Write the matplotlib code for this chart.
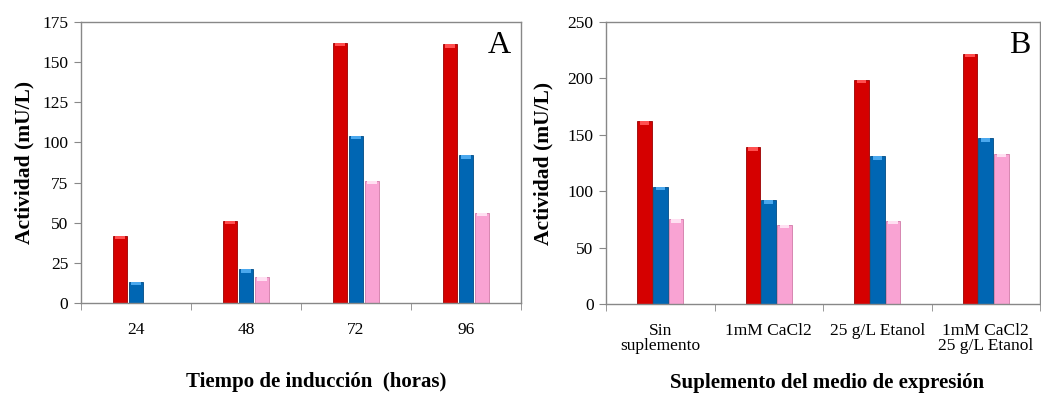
import matplotlib
matplotlib.use("Agg")
import matplotlib.pyplot as plt
import numpy as np

plt.rcParams['font.family'] = ['Liberation Serif', 'DejaVu Serif']

# Panel A data
cats_a = ["24", "48", "72", "96"]
red_a = [42, 51, 162, 161]
blue_a = [13, 21, 104, 92]
pink_a = [0, 16, 76, 56]

# Panel B data
cats_b = ["Sin\nsuplemento", "1mM CaCl2", "25 g/L Etanol", "1mM CaCl2\n25 g/L Etanol"]
red_b = [162, 139, 199, 222]
blue_b = [104, 92, 131, 147]
pink_b = [75, 70, 74, 133]

colors = ["#d50000", "#0066b3", "#f9a3d3"]
edges = ["#9a0000", "#004a85", "#d07aa8"]
caps = ["#ff5050", "#4aa8ee", "#ffe0f2"]

fig = plt.figure(figsize=(10.41, 3.93), dpi=100)
axA = fig.add_axes([81/1041, 1-303/393, 440/1041, 281/393])
axB = fig.add_axes([606/1041, 1-304/393, 434/1041, 282/393])

w = 0.145

def draw(ax, cats, series, ymax, step, letter, xlabel):
    x = np.arange(len(cats))
    for i, vals in enumerate(series):
        xs = x + (i - 1) * w
        vals = np.array(vals, dtype=float)
        mask = vals > 0
        ax.bar(xs[mask], vals[mask], width=w * 0.93, color=colors[i],
               edgecolor=edges[i], linewidth=0.6, zorder=2)
        # highlight cap to suggest the bevel effect
        cap_h = ymax * 0.012
        ax.bar(xs[mask], np.full(mask.sum(), cap_h), bottom=vals[mask] - cap_h,
               width=w * 0.6, color=caps[i], linewidth=0, zorder=3)
    ax.set_xlim(-0.5, len(cats) - 0.5)
    ax.set_ylim(0, ymax)
    ax.set_yticks(np.arange(0, ymax + 1, step))
    ax.set_xticks(x)
    ax.set_xticklabels(cats, fontsize=12.5, linespacing=0.9)
    ax.set_xticks(np.arange(-0.5, len(cats), 1.0), minor=True)
    ax.tick_params(axis='x', which='major', length=0, pad=14)
    ax.tick_params(axis='x', which='minor', length=5, color='#888888', direction='out')
    ax.tick_params(axis='y', length=5, color='#888888', labelsize=12.5, pad=4)
    for s in ax.spines.values():
        s.set_color('#888888')
        s.set_linewidth(1.0)
    ax.set_ylabel("Actividad (mU/L)", fontsize=15.5, fontweight='bold')
    ax.set_xlabel(xlabel, fontsize=15, fontweight='bold')
    ax.text(0.977, 0.915, letter, transform=ax.transAxes, fontsize=23,
            ha='right', va='center')

draw(axA, cats_a, [red_a, blue_a, pink_a], 175, 25, "A",
     "Tiempo de inducción  (horas)")
draw(axB, cats_b, [red_b, blue_b, pink_b], 250, 50, "B",
     "Suplemento del medio de expresión")

axA.yaxis.set_label_coords(-0.105, 0.5)
axB.yaxis.set_label_coords(-0.12, 0.5)
axA.xaxis.set_label_coords(0.535, -0.245)
axB.xaxis.set_label_coords(0.51, -0.245)

fig.savefig("out.png", dpi=100)
